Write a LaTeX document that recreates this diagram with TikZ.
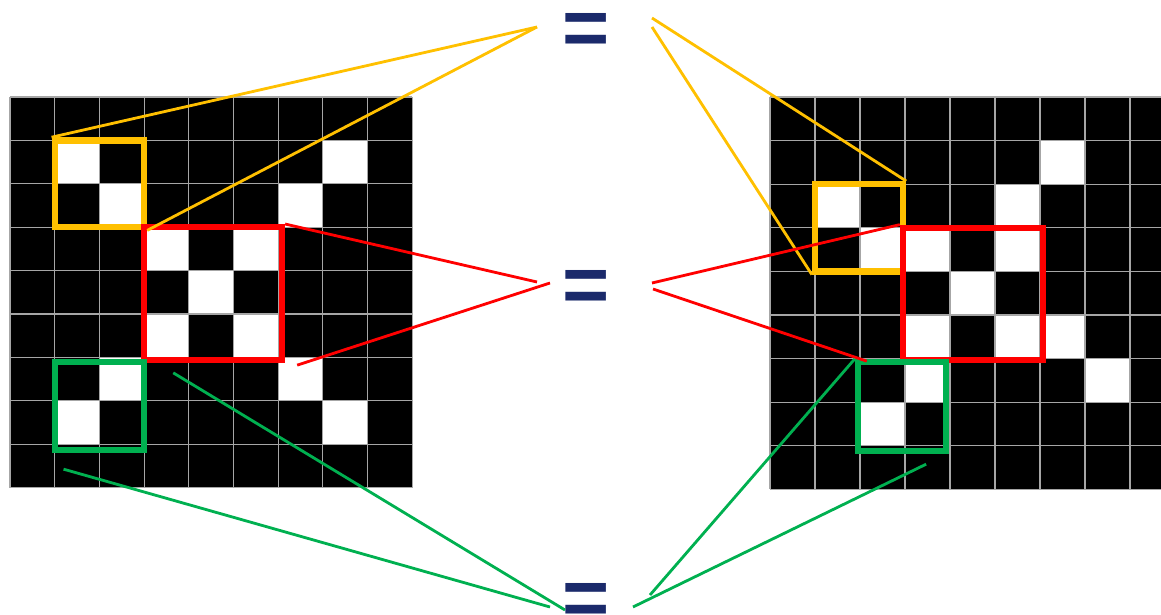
\documentclass[tikz,border=0pt]{standalone}
\usepackage{fontspec}
\newfontfamily\eqfont{Liberation Sans}
\usepackage{tikz}
\usetikzlibrary{calc}
\usetikzlibrary{fit}
\definecolor{boxyellow}{HTML}{FFC000}
\definecolor{boxred}{HTML}{FF0000}
\definecolor{boxgreen}{HTML}{00B050}
\definecolor{eqblue}{HTML}{1B2A6B}
\tikzstyle{frame} = [draw, line width=3.6pt,
	inner sep=0pt]
\tikzstyle{link} = [line width=1.6pt]
\tikzstyle{gridline} = [draw=gray!70, line width=0.6pt]
\tikzstyle{eqsign} = [text=eqblue, inner sep=0pt,
	font=\eqfont\bfseries\fontsize{46}{46}\selectfont]
% board: x0, y0, dx, dy, white cells (col/row)
\newcommand{\drawboard}[5]{\fill[black] (#1,#2) rectangle ++(9*#3,9*#4);
	\foreach \c/\r in {#5} \fill[white] (#1+\c*#3,#2+\r*#4) rectangle ++(#3,#4);
	\foreach \i in {0,...,9} {\draw[gridline] (#1+\i*#3,#2) -- ++(0,9*#4);
		\draw[gridline] (#1,#2+\i*#4) -- ++(9*#3,0);}}

\begin{document}
\begin{tikzpicture}[x=0.02cm, y=-0.02cm]
			\useasboundingbox (0,0) rectangle (1161,615);
			\begin{scope}
				\clip (0,0) rectangle (1161,615);
				\drawboard{10}{97}{44.7}{43.4}{1/1,7/1,2/2,6/2,3/3,5/3,4/4,3/5,5/5,2/6,6/6,1/7,7/7};
				\drawboard{770}{97}{45}{43.6}{6/1,1/2,5/2,2/3,3/3,5/3,4/4,3/5,5/5,6/5,3/6,7/6,2/7};
			\end{scope}
			
			\node (yl) [frame, draw=boxyellow, fit={(54.7,140.4) (144.1,227.2)}] {};
			\node (rl) [frame, draw=boxred, fit={(144.1,227.2) (282,360)}] {};
			\node (gl) [frame, draw=boxgreen, fit={(54.7,362) (144.1,450)}] {};
			\node (yr) [frame, draw=boxyellow, fit={(815,184.2) (903,271.4)}] {};
			\node (rr) [frame, draw=boxred, fit={(903,227.8) (1043,360)}] {};
			\node (gr) [frame, draw=boxgreen, fit={(858,362) (946,451)}] {};
			
			\node (eqtop) [eqsign] at (586,34) {=};
			\node (eqmid) [eqsign] at (586,291) {=};
			\node (eqbot) [eqsign] at (586,604) {=};
			
			% tips next to the signs
			\coordinate (ytipl) at (537,27);
			\coordinate (ytipr1) at (652,18);
			\coordinate (ytipr2) at (652,27);
			\coordinate (rtipl1) at (537,282);
			\coordinate (rtipl2) at (550,283);
			\coordinate (rtipr1) at (652,283);
			\coordinate (rtipr2) at (653,289);
			\coordinate (gtipl1) at (550,607);
			\coordinate (gtipl2) at (565,610);
			\coordinate (gtipr1) at (633,607);
			\coordinate (gtipr2) at (650,595);
			
			\draw [link, boxyellow] (yl.north west) -- (ytipl);
			\draw [link, boxyellow] (yl.south east) -- (ytipl);
			\draw [link, boxyellow] (ytipr1) -- (yr.north east);
			\draw [link, boxyellow] (ytipr2) -- (yr.south west);
			
			\draw [link, boxred] (rl.north east) -- (rtipl1);
			\draw [link, boxred] ($(rl.south east)+(12,2)$) -- (rtipl2);
			\draw [link, boxred] (rtipr1) -- (rr.north west);
			\draw [link, boxred] (rtipr2) -- ($(rr.south west)+(-33,-2)$);
			
			\draw [link, boxgreen] ($(gl.south west)+(12,16)$) -- (gtipl1);
			\draw [link, boxgreen] ($(gl.north east)+(26,14)$) -- (gtipl2);
			\draw [link, boxgreen] (gtipr1) -- ($(gr.south east)+(-23,10)$);
			\draw [link, boxgreen] (gtipr2) -- (gr.north west);
		\end{tikzpicture}
\end{document}
